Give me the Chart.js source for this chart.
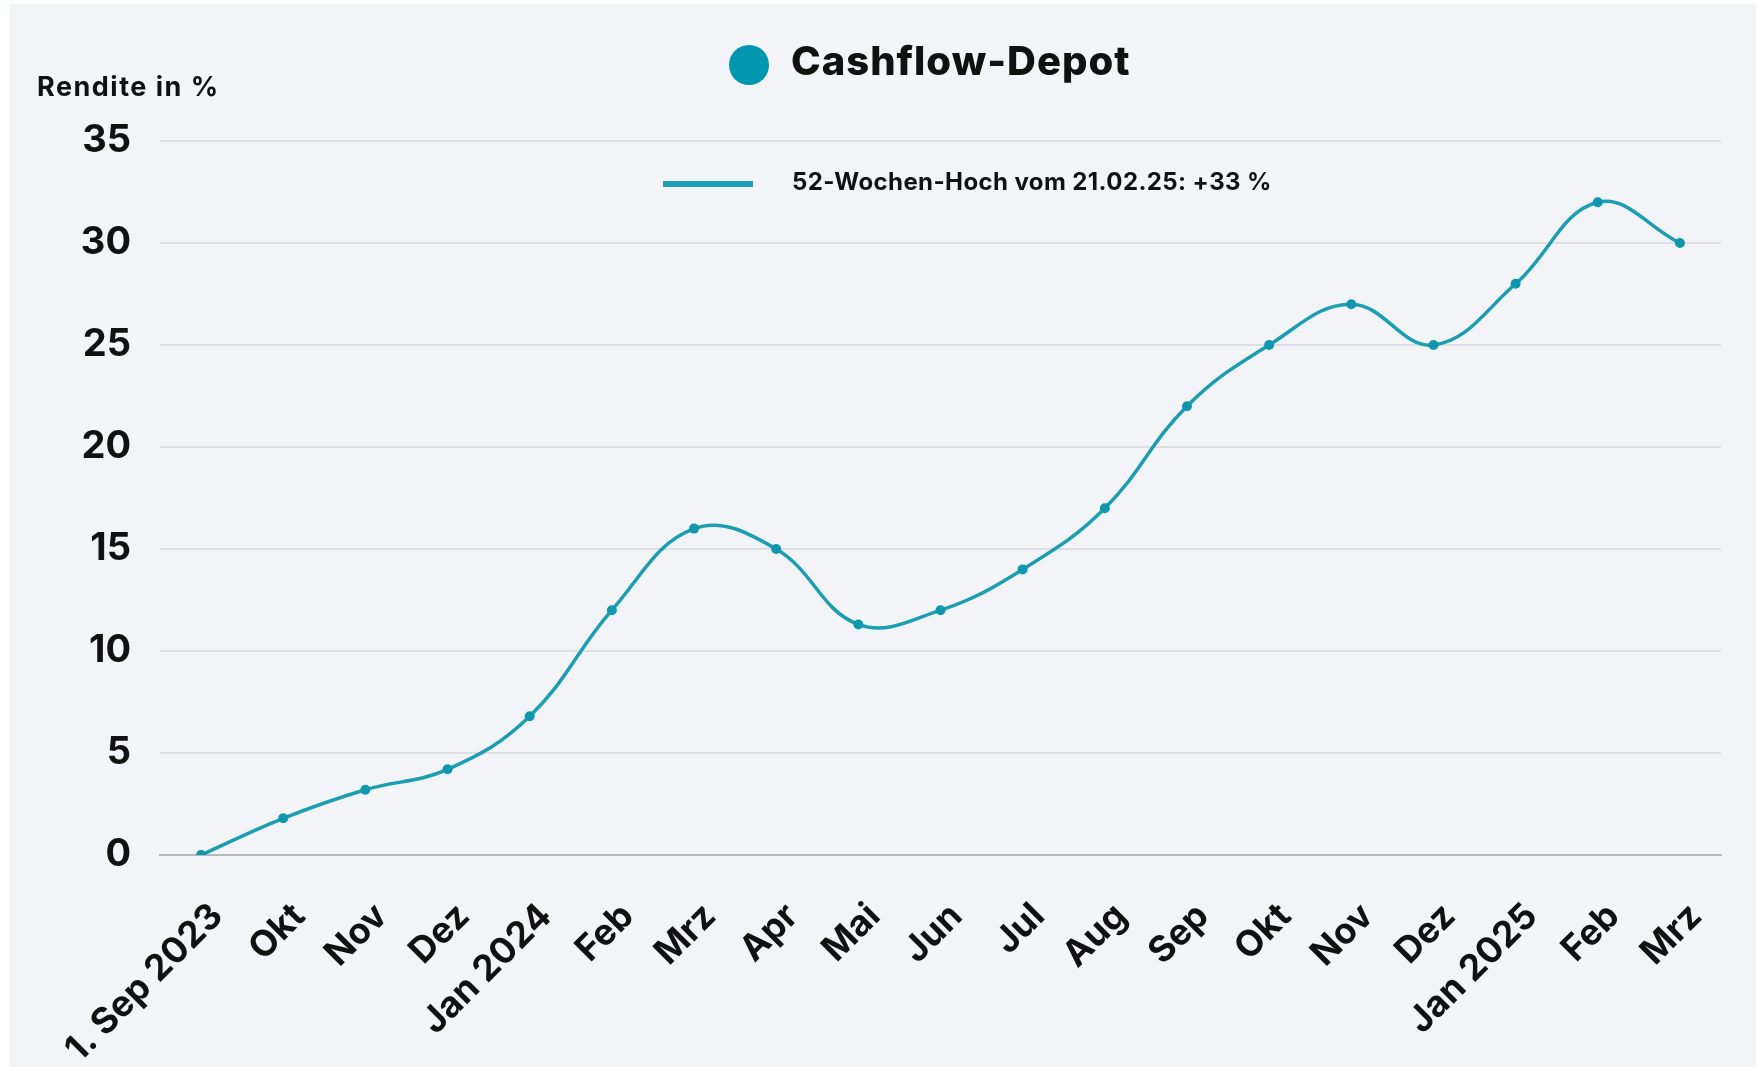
<!DOCTYPE html>
<html lang="de">
<head>
<meta charset="utf-8">
<title>Cashflow-Depot</title>
<script src="https://cdn.jsdelivr.net/npm/chart.js@4.4.1/dist/chart.umd.min.js"></script>
<style>
    html, body { margin: 0; padding: 0; background: #ffffff; }
    #wrap { position: absolute; left: 0; top: 0; width: 1756px; height: 1067px; }
</style>
</head>
<body>
<div id="wrap"><canvas id="chart" width="1756" height="1067"></canvas></div>
<script>
/* ==========================================================================
   Daten
   ========================================================================== */

// Monatsachse
const monate = ['1. Sep 2023', 'Okt', 'Nov', 'Dez', 'Jan 2024', 'Feb', 'Mrz', 'Apr', 'Mai',
    'Jun', 'Jul', 'Aug', 'Sep', 'Okt', 'Nov', 'Dez', 'Jan 2025', 'Feb', 'Mrz'];

// Rendite in % (Cashflow-Depot)
const rendite = [0, 1.8, 3.2, 4.2, 6.8, 12.0, 16.0, 15.0, 11.3,
    12.0, 14.0, 17.0, 22.0, 25.0, 27.0, 25.0, 28.0, 32.0, 30.0];

// Y-Achse
const yMin = 0;
const yMax = 35;
const yStep = 5;

const titelText = 'Cashflow-Depot';
const achsenTitel = 'Rendite in %';
const hochText = '52-Wochen-Hoch vom 21.02.25: +33 %';

/* ==========================================================================
   Stil
   ========================================================================== */

const farbeLinie = '#1b9db2';
const farbePunkt = '#0f97ad';
const farbeHintergrund = '#f3f4f8';
const schrift = "Inter, 'Noto Sans', sans-serif";

/**
 * Hintergrund-Panel und Beschriftungen oben
 */
const kopfPlugin = {
    id: 'kopf',
    beforeDraw(chart) {
        const ctx = chart.ctx;
        ctx.save();
        ctx.fillStyle = farbeHintergrund;
        ctx.fillRect(9, 4, chart.width - 9, chart.height - 4);
        ctx.restore();
    },
    afterDraw(chart) {
        const ctx = chart.ctx;
        ctx.save();

        // Titelpunkt + Titel
        ctx.fillStyle = '#0096b0';
        ctx.beginPath();
        ctx.arc(749, 65, 20, 0, Math.PI * 2);
        ctx.fill();

        ctx.fillStyle = '#111111';
        ctx.textBaseline = 'middle';
        ctx.textAlign = 'left';
        ctx.font = '800 40px ' + schrift;
        ctx.letterSpacing = '1px';
        ctx.fillText(titelText, 791, 63);

        // Achsentitel
        ctx.font = '700 27px ' + schrift;
        ctx.letterSpacing = '1.5px';
        ctx.fillText(achsenTitel, 37, 88);

        // Legende 52-Wochen-Hoch
        ctx.strokeStyle = farbeLinie;
        ctx.lineWidth = 6;
        ctx.beginPath();
        ctx.moveTo(663, 184);
        ctx.lineTo(753, 184);
        ctx.stroke();

        ctx.font = '700 24px ' + schrift;
        ctx.letterSpacing = '0.4px';
        ctx.fillText(hochText, 792, 183);

        ctx.restore();
    }
};

/* ==========================================================================
   Diagramm
   ========================================================================== */

document.addEventListener('DOMContentLoaded', function() {
    const ctx = document.getElementById('chart');

    new Chart(ctx.getContext('2d'), {
        type: 'line',
        data: {
            labels: monate,
            datasets: [{
                label: titelText,
                data: rendite,
                borderColor: farbeLinie,
                backgroundColor: farbePunkt,
                borderWidth: 3.5,
                pointRadius: 5,
                pointBackgroundColor: farbePunkt,
                pointBorderWidth: 0,
                tension: 0.4,
                fill: false
            }]
        },
        options: {
            responsive: false,
            animation: false,
            devicePixelRatio: 1,
            layout: {
                padding: { top: 141, right: 35, bottom: 0, left: 0 }
            },
            plugins: {
                legend: { display: false },
                title: { display: false },
                tooltip: { enabled: false }
            },
            scales: {
                x: {
                    offset: true,
                    grid: { display: false, drawTicks: false },
                    border: { display: true, color: '#b8b8bc', width: 2 },
                    ticks: {
                        autoSkip: false,
                        minRotation: 45,
                        maxRotation: 45,
                        padding: 40,
                        labelOffset: 16,
                        color: '#111111',
                        font: { family: schrift, size: 36, weight: '700' }
                    },
                    afterFit(scale) {
                        scale.height = 1067 - 855;
                    }
                },
                y: {
                    min: yMin,
                    max: yMax,
                    grid: {
                        drawTicks: false,
                        color: function(c) {
                            return c.tick.value === 0 ? 'rgba(0,0,0,0)' : '#dddee4';
                        },
                        lineWidth: 2
                    },
                    border: { display: false },
                    ticks: {
                        stepSize: yStep,
                        padding: 29,
                        color: '#111111',
                        font: { family: schrift, size: 38, weight: '700' }
                    },
                    afterFit(scale) {
                        scale.width = 160;
                    }
                }
            }
        },
        plugins: [kopfPlugin]
    });
});
</script>
</body>
</html>
